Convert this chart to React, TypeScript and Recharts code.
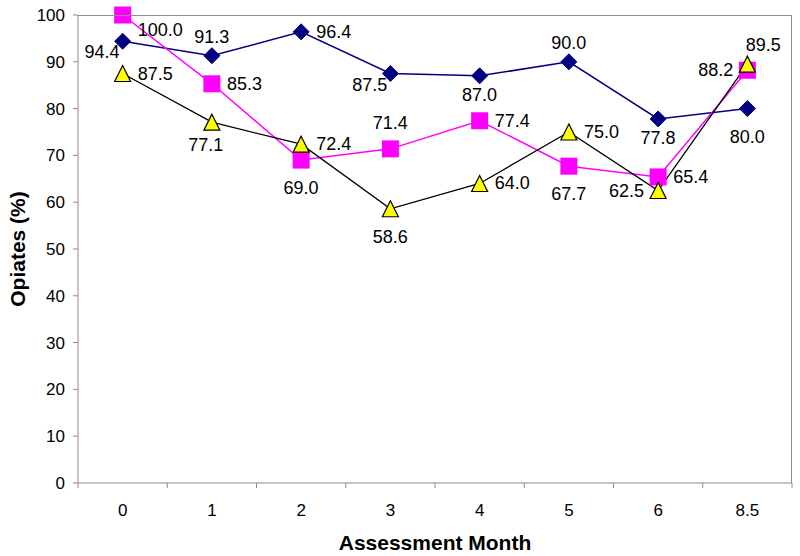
import React from 'react';
import {
  LineChart,
  Line,
  XAxis,
  YAxis,
  LabelList,
  Label,
} from 'recharts';

const months = ['0', '1', '2', '3', '4', '5', '6', '8.5'];
const navySeries = [94.4, 91.3, 96.4, 87.5, 87.0, 90.0, 77.8, 80.0];
const pinkSeries = [100.0, 85.3, 69.0, 71.4, 77.4, 67.7, 65.4, 88.2];
const yellowSeries = [87.5, 77.1, 72.4, 58.6, 64.0, 75.0, 62.5, 89.5];
const yTicks = [0, 10, 20, 30, 40, 50, 60, 70, 80, 90, 100];

// where each value label sits relative to its marker
const navySpots = ['bl', 't', 'r', 'bl', 'b', 't', 'b', 'bb'];
const pinkSpots = ['rb', 'r', 'bb', 'tt', 'r', 'bb', 'r', 'l'];
const yellowSpots = ['r', 'b2', 'r', 'bb', 'r', 'r', 'l', 'tr'];

const rows = months.map((m, i) => ({
  month: m,
  navy: navySeries[i],
  pink: pinkSeries[i],
  yellow: yellowSeries[i],
}));

const W = 800;
const H = 556;
const M = { top: 15, right: 8, left: 0, bottom: 0 };
const Y_W = 78;
const X_H = 73;
const FONT = '"Liberation Sans", Arial, sans-serif';
const GREY = '#8c8c8c';
const PLOT_W = W - M.left - M.right - Y_W;
const PLOT_H = H - M.top - M.bottom - X_H;
const BAND = PLOT_W / months.length;
const PAD = { left: BAND / 2, right: BAND / 2 };

const spotOffsets: Record<string, [number, number, 'start' | 'middle' | 'end']> = {
  r: [15, 0, 'start'],
  l: [-14, 0, 'end'],
  t: [0, -19, 'middle'],
  tt: [0, -26, 'middle'],
  b: [0, 19, 'middle'],
  b2: [-6, 23, 'middle'],
  bb: [0, 28, 'middle'],
  bl: [-3, 11, 'end'],
  rb: [15, 15, 'start'],
  tr: [16, -19, 'middle'],
};

function makeLabel(spots: string[]) {
  return function ValueLabel(props: any) {
    const { x, y, value, index } = props;
    const [dx, dy, anchor] = spotOffsets[spots[index]] || spotOffsets.r;
    return (
      <text
        x={x + dx}
        y={y + dy}
        textAnchor={anchor}
        dominantBaseline="central"
        fontSize={18}
        fontFamily={FONT}
        fill="#000"
      >
        {Number(value).toFixed(1)}
      </text>
    );
  };
}

function Diamond(props: any) {
  const { cx, cy } = props;
  if (cx == null || cy == null) return null;
  const s = 8;
  return (
    <polygon
      points={`${cx},${cy - s} ${cx + s},${cy} ${cx},${cy + s} ${cx - s},${cy}`}
      fill="#000080"
      stroke="#000080"
    />
  );
}

function Square(props: any) {
  const { cx, cy } = props;
  if (cx == null || cy == null) return null;
  const s = 17;
  return <rect x={cx - s / 2} y={cy - s / 2} width={s} height={s} fill="#ff00ff" />;
}

function Triangle(props: any) {
  const { cx, cy } = props;
  if (cx == null || cy == null) return null;
  const w = 8;
  const h = 8;
  return (
    <polygon
      points={`${cx},${cy - h} ${cx + w},${cy + h} ${cx - w},${cy + h}`}
      fill="#ffff00"
      stroke="#000"
      strokeWidth={1.2}
    />
  );
}

function MonthTick(props: any) {
  const { x, y, payload, index } = props;
  const last = index === months.length - 1;
  return (
    <g>
      <line x1={x - BAND / 2} y1={y} x2={x - BAND / 2} y2={y + 5} stroke={GREY} />
      {last && <line x1={x + BAND / 2} y1={y} x2={x + BAND / 2} y2={y + 5} stroke={GREY} />}
      <text
        x={x}
        y={y + 27}
        textAnchor="middle"
        dominantBaseline="central"
        fontSize={17}
        fontFamily={FONT}
        fill="#000"
      >
        {payload.value}
      </text>
    </g>
  );
}

export default function App() {
  return (
    <div style={{ position: 'absolute', left: 0, top: 0, width: W, height: H, background: '#fff' }}>
      <LineChart width={W} height={H} data={rows} margin={M}>
        <XAxis
          dataKey="month"
          height={X_H}
          stroke={GREY}
          padding={PAD}
          tickSize={0}
          tickMargin={0}
          tickLine={false}
          interval={0}
          tick={<MonthTick />}
        >
          <Label
            value="Assessment Month"
            position="insideBottom"
            offset={6}
            fontSize={21}
            fontWeight="bold"
            fontFamily={FONT}
            fill="#000"
          />
        </XAxis>
        <YAxis
          domain={[0, 100]}
          ticks={yTicks}
          width={Y_W}
          stroke={GREY}
          tickSize={5}
          tickMargin={8}
          tick={{ fontSize: 17, fontFamily: FONT, fill: '#000' }}
        >
          <Label
            value="Opiates (%)"
            angle={-90}
            position="insideLeft"
            offset={18}
            style={{ textAnchor: 'middle' }}
            fontSize={21}
            fontWeight="bold"
            fontFamily={FONT}
            fill="#000"
          />
        </YAxis>
        <Line
          dataKey="navy"
          stroke="#000080"
          strokeWidth={1.5}
          dot={<Diamond />}
          isAnimationActive={false}
        >
          <LabelList dataKey="navy" content={makeLabel(navySpots)} />
        </Line>
        <Line
          dataKey="pink"
          stroke="#ff00ff"
          strokeWidth={1.5}
          dot={<Square />}
          isAnimationActive={false}
        >
          <LabelList dataKey="pink" content={makeLabel(pinkSpots)} />
        </Line>
        <Line
          dataKey="yellow"
          stroke="#000"
          strokeWidth={1.3}
          dot={<Triangle />}
          isAnimationActive={false}
        >
          <LabelList dataKey="yellow" content={makeLabel(yellowSpots)} />
        </Line>
      </LineChart>
      {/* plot frame (top and right edges) */}
      <div
        style={{
          position: 'absolute',
          left: M.left + Y_W,
          top: M.top,
          width: PLOT_W,
          height: PLOT_H,
          borderTop: `1px solid ${GREY}`,
          borderRight: `1px solid ${GREY}`,
          boxSizing: 'border-box',
          pointerEvents: 'none',
        }}
      />
    </div>
  );
}
